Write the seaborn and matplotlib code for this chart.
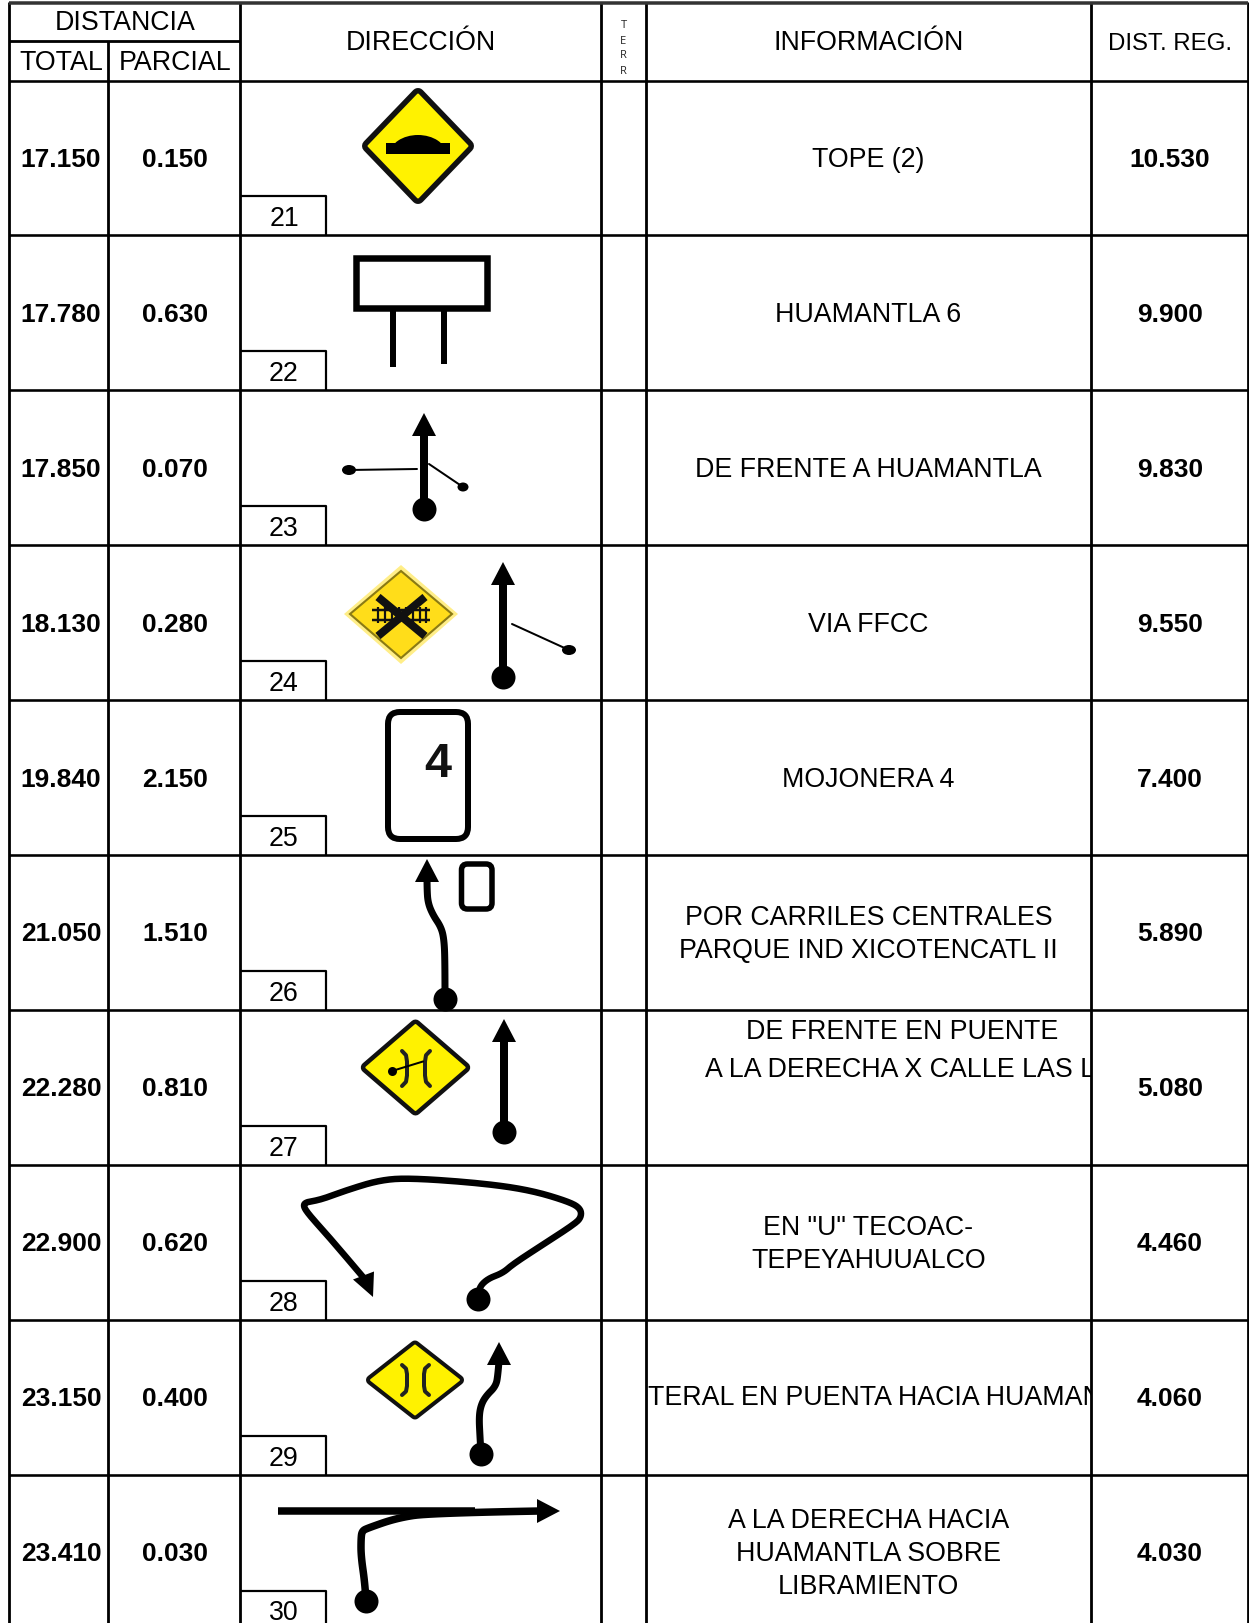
import numpy as np
import pandas as pd
import seaborn as sns
import matplotlib.pyplot as plt
from matplotlib.patches import Ellipse, FancyBboxPatch, Rectangle

# Table values
totals = ["17.150", "17.780", "17.850", "18.130", "19.840", "21.050", "22.280", "22.900", "23.150", "23.410"]
parciales = ["0.150", "0.630", "0.070", "0.280", "2.150", "1.510", "0.810", "0.620", "0.400", "0.030"]
dist_reg = ["10.530", "9.900", "9.830", "9.550", "7.400", "5.890", "5.080", "4.460", "4.060", "4.030"]
numeros = ["21", "22", "23", "24", "25", "26", "27", "28", "29", "30"]
informacion = [
    ["TOPE (2)"],
    ["HUAMANTLA 6"],
    ["DE FRENTE A HUAMANTLA"],
    ["VIA FFCC"],
    ["MOJONERA 4"],
    ["POR CARRILES CENTRALES", "PARQUE IND XICOTENCATL II"],
    [],
    ['EN "U" TECOAC-', "TEPEYAHUUALCO"],
    [],
    ["A LA DERECHA HACIA", "HUAMANTLA SOBRE", "LIBRAMIENTO"],
]

# Route sketches
ruta_23_x = [424, 424]
ruta_23_y = [510, 432]
ruta_24_x = [503, 503]
ruta_24_y = [678, 581]
ruta_26_x = [445, 445, 444, 441, 433, 428, 427, 427]
ruta_26_y = [1000, 962, 940, 928, 916, 904, 890, 876]
ruta_27_x = [504, 504]
ruta_27_y = [1133, 1039]
ruta_28_x = [478, 478, 487, 503, 513, 547, 573, 581, 581, 570, 530, 480, 410, 380, 347, 320, 306, 303, 310, 330, 363]
ruta_28_y = [1300, 1290, 1280, 1274, 1265, 1243, 1226, 1219, 1210, 1203, 1191, 1184, 1179, 1181, 1191, 1201, 1203, 1207, 1217, 1239, 1278]
ruta_29_x = [481, 480, 479, 481, 486, 496, 498, 499]
ruta_29_y = [1455, 1438, 1418, 1406, 1397, 1387, 1375, 1362]
ruta_30_x = [366, 365, 361, 361, 362, 368, 397, 430, 540]
ruta_30_y = [1602, 1585, 1557, 1540, 1532, 1529, 1519, 1514, 1512]

sns.set_theme(style="white")
plt.rcParams["font.family"] = ["Liberation Sans", "DejaVu Sans"]
plt.rcParams["text.color"] = "black"

fig = plt.figure(figsize=(12.49, 16.24), dpi=100)
ax = fig.add_axes([0, 0, 1, 1])
ax.set_xlim(0, 1249)
ax.set_ylim(1624, 0)
ax.axis("off")

PX = 0.72
columnas = [9, 108.5, 240, 601, 646, 1091, 1248]
filas = [81.5 + 154.9 * i for i in range(11)]
AMARILLO = "#FFF200"
LETRA = 19.3


def linea(x, y, ancho, color="black", cap="round", z=4):
    data = pd.DataFrame({"x": x, "y": y})
    sns.lineplot(data=data, x="x", y="y", ax=ax, sort=False, estimator=None, color=color,
                 linewidth=ancho * PX, solid_capstyle=cap, solid_joinstyle="round", zorder=z)


def curva(x, y, ancho):
    # rounds the traced route between its points, like the hand drawn original
    p = np.column_stack([x, y]).astype(float)
    t = np.linspace(0, 1, 12)[:, None]
    tramos = [p[:1]]
    for i in range(1, len(p) - 1):
        a = (p[i - 1] + p[i]) / 2 if i > 1 else p[0]
        c = (p[i] + p[i + 1]) / 2 if i < len(p) - 2 else p[-1]
        tramos.append((1 - t) ** 2 * a + 2 * t * (1 - t) * p[i] + t ** 2 * c)
    q = np.vstack(tramos)
    linea(q[:, 0], q[:, 1], ancho)


def punto(x, y, radio=12):
    data = pd.DataFrame({"x": [x], "y": [y]})
    sns.scatterplot(data=data, x="x", y="y", ax=ax, color="black", s=(2 * radio * PX) ** 2,
                    linewidth=0, zorder=5)


def flecha(x, y, ancho=12, largo=23, direccion="arriba"):
    if direccion == "arriba":
        ax.fill([x - ancho, x, x + ancho], [y + largo, y, y + largo], color="black", lw=0, zorder=5)
    else:
        ax.fill([x - largo, x, x - largo], [y - ancho, y, y + ancho], color="black", lw=0, zorder=5)


def rombo(cx, cy, mx, my, borde=5, radio=1):
    # rounded sign: thick black outline below, yellow face on the same corners
    r = borde + radio
    xs = [cx - mx + r, cx, cx + mx - r, cx]
    ys = [cy, cy - my + r, cy, cy + my - r]
    ax.fill(xs, ys, facecolor="#111111", edgecolor="#111111", lw=2 * r * PX, joinstyle="round", zorder=3)
    ax.fill(xs, ys, facecolor=AMARILLO, edgecolor=AMARILLO, lw=2 * radio * PX, joinstyle="round", zorder=3)


def caja(x0, y0, x1, y1, ancho=4.5, radio=10):
    ax.add_patch(FancyBboxPatch((x0 + radio, y0 + radio), x1 - x0 - 2 * radio, y1 - y0 - 2 * radio,
                                boxstyle=f"round,pad={radio}", fc="none", ec="black",
                                lw=ancho * PX, zorder=4))


def rama(x, y, rx=7, ry=5):
    ax.add_patch(Ellipse((x, y), 2 * rx, 2 * ry, fc="black", ec="none", zorder=5))


def corchetes(izq, der, arriba, abajo, ancho=4):
    alto = abajo - arriba
    ys = [arriba, arriba + alto * 0.12, arriba + alto * 0.3, arriba + alto * 0.7, arriba + alto * 0.88, abajo]
    linea([izq, izq + 4, izq + 5, izq + 5, izq + 4, izq], ys, ancho, color="#222222")
    linea([der, der - 4, der - 5, der - 5, der - 4, der], ys, ancho, color="#222222")


# Grid
for x in columnas:
    y0 = 42 if x == columnas[1] else 3
    linea([x, x], [y0, 1624], 2.8, cap="butt", z=2)
linea([9, 1248], [3.5, 3.5], 3.5, color="#333333", cap="butt", z=2)
linea([9, 240], [42, 42], 2.8, cap="butt", z=2)
for y in filas[:-1]:
    linea([9, 1248], [y, y], 2.6, cap="butt", z=2)

# Number boxes
for i, n in enumerate(numeros):
    abajo = filas[i + 1]
    linea([240, 326, 326], [abajo - 39, abajo - 39, min(abajo, 1624)], 2.2, cap="butt", z=2)
    ax.text(284, abajo - 17, n, fontsize=LETRA, ha="center", va="center")

# Header
ax.text(125, 23, "DISTANCIA", fontsize=LETRA, ha="center", va="center")
ax.text(61, 62.5, "TOTAL", fontsize=LETRA, ha="center", va="center")
ax.text(175.5, 62.5, "PARCIAL", fontsize=LETRA, ha="center", va="center")
ax.text(421, 42.5, "DIRECCIÓN", fontsize=LETRA, ha="center", va="center")
ax.text(869, 42.5, "INFORMACIÓN", fontsize=LETRA, ha="center", va="center")
ax.text(1170, 43.5, "DIST. REG.", fontsize=17.3, ha="center", va="center")
for letra, y in zip("TERR", [25.5, 41.5, 56, 71.5]):
    ax.text(623.5, y, letra, fontsize=8, ha="center", va="center", family="Open Sans", color="#222222")

# Body text
for i in range(len(totals)):
    yc = (filas[i] + filas[i + 1]) / 2 + 1
    ax.text(61, yc, totals[i], fontsize=19, fontweight="bold", ha="center", va="center")
    ax.text(175, yc, parciales[i], fontsize=19, fontweight="bold", ha="center", va="center")
    ax.text(1170, yc, dist_reg[i], fontsize=19, fontweight="bold", ha="center", va="center")
    lineas = informacion[i]
    for j, texto in enumerate(lineas):
        y = yc + (j - (len(lineas) - 1) / 2) * 33
        ax.text(868.5, y, texto, fontsize=LETRA, ha="center", va="center")

# The two texts that run out of their cell in the original
ax.text(902, 1032.5, "DE FRENTE EN PUENTE", fontsize=LETRA, ha="center", va="center")
t = ax.text(705, 1070.5, "A LA DERECHA X CALLE LAS L", fontsize=LETRA, ha="left", va="center", clip_on=True)
t.set_clip_path(Rectangle((646, filas[6]), 445, 155, transform=ax.transData))
t = ax.text(648, 1398.5, "TERAL EN PUENTA HACIA HUAMAN", fontsize=LETRA, ha="left", va="center", clip_on=True)
t.set_clip_path(Rectangle((646, filas[8]), 445, 155, transform=ax.transData))

# 21 tope
rombo(418, 147, 56, 58, borde=5.5)
domo = Ellipse((418, 155), 56, 38, fc="black", ec="none", zorder=4)
ax.add_patch(domo)
domo.set_clip_path(Rectangle((380, 130), 80, 25, transform=ax.transData))
ax.add_patch(Rectangle((386, 144), 64, 11, fc="black", ec="none", zorder=4))

# 22 senal
ax.add_patch(Rectangle((356, 259), 131, 50, fc="none", ec="black", lw=6.5 * PX, zorder=4))
linea([393.5, 393.5], [312, 368], 6, cap="butt")
linea([444.5, 444.5], [312, 365], 6, cap="butt")

# 23 cruce
linea(ruta_23_x, ruta_23_y, 8, cap="butt")
flecha(424, 414)
punto(424, 510)
linea([349, 417], [471, 470], 2)
rama(349, 471)
linea([429, 463], [465, 488], 2)
rama(463, 488, 5.5, 4.5)

# 24 via ffcc
ax.fill([344, 401, 458, 401], [615, 566, 615, 665], color="#FFEE88", lw=0, zorder=3)
ax.fill([350, 401, 452, 401], [615, 572, 615, 659], facecolor="#FFDD1A", edgecolor="#8a7a14", lw=1.5, zorder=3)
linea([378, 425], [598, 637], 8, color="#111111", cap="butt")
linea([378, 425], [637, 598], 8, color="#111111", cap="butt")
linea([372, 430], [611, 611], 2.5, color="#111111", cap="butt")
linea([372, 430], [621, 621], 2.5, color="#111111", cap="butt")
for x in [378, 385, 392, 399, 406, 413, 420, 426]:
    linea([x, x], [608, 624], 2.2, color="#111111", cap="butt")
linea(ruta_24_x, ruta_24_y, 8, cap="butt")
flecha(503, 563)
punto(503, 678)
linea([512, 569], [625, 651], 2)
rama(569, 651)

# 25 mojonera
caja(388, 713, 468, 840, ancho=6, radio=12)
ax.text(438, 765, "4", fontsize=35, fontweight="bold", ha="center", va="center", color="#111111", zorder=5)

# 26 carriles
curva(ruta_26_x, ruta_26_y, 7)
flecha(427, 860)
punto(445, 1000)
caja(461.5, 865, 492, 910, ancho=5.5, radio=6)

# 27 puente
rombo(415.5, 1068.5, 54.7, 48, borde=4.5)
corchetes(402, 430, 1052, 1087)
linea([392, 423], [1072, 1062.5], 2)
punto(392, 1072, radio=4.5)
linea(ruta_27_x, ruta_27_y, 8, cap="butt")
flecha(504, 1020)
punto(504, 1133)

# 28 vuelta en u
curva(ruta_28_x, ruta_28_y, 6.5)
ax.fill([373, 353, 374], [1298, 1280.5, 1272.5], color="black", lw=0, zorder=5)
punto(478, 1300)

# 29 lateral
rombo(415, 1381, 49, 39.5, borde=4)
corchetes(402, 429, 1366, 1396)
curva(ruta_29_x, ruta_29_y, 7)
flecha(499, 1343)
punto(481, 1455)

# 30 derecha
linea([278, 475], [1512, 1512], 7.5, cap="butt")
curva(ruta_30_x, ruta_30_y, 7.5)
flecha(560, 1512, direccion="derecha")
punto(366, 1602)

fig.savefig("out.png", dpi=100)
plt.close(fig)
